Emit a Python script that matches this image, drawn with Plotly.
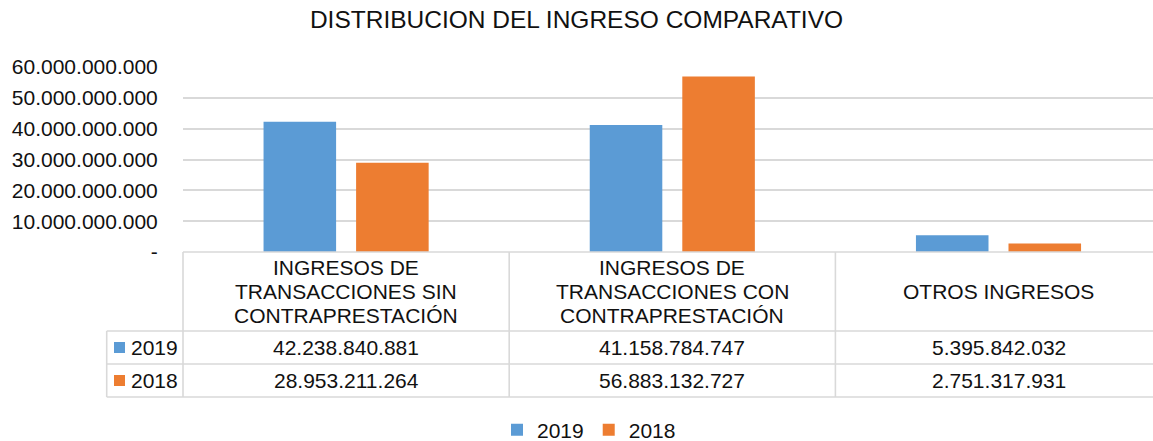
import plotly.graph_objects as go

# ---------------- data ----------------
categories = [
    "INGRESOS DE<br>TRANSACCIONES SIN<br>CONTRAPRESTACIÓN",
    "INGRESOS DE<br>TRANSACCIONES CON<br>CONTRAPRESTACIÓN",
    "OTROS INGRESOS",
]
series_names = ["2019", "2018"]
values_2019 = [42238840881, 41158784747, 5395842032]
values_2018 = [28953211264, 56883132727, 2751317931]
tick_values = [0, 10e9, 20e9, 30e9, 40e9, 50e9, 60e9]
tick_labels = ["-", "10.000.000.000", "20.000.000.000", "30.000.000.000",
               "40.000.000.000", "50.000.000.000", "60.000.000.000"]
title_text = "DISTRIBUCION DEL INGRESO COMPARATIVO"

# ---------------- style ----------------
BLUE = "#5B9BD5"
ORANGE = "#ED7D31"
GRID = "#D9D9D9"
TXT = "#111111"
FONT = "Liberation Sans, Arial, sans-serif"
W, H = 1153, 441
ML, MR, MT, MB = 183, 0, 67, 189
plot_w = W - ML - MR
plot_h = H - MT - MB
cat_w = 326.2  # pixel width of a category


def py(p):  # pixel y -> paper y
    return (H - MB - p) / plot_h


def px(p):  # pixel x -> paper x
    return (p - ML) / plot_w


fig = go.Figure()
colors = [BLUE, ORANGE]
series_vals = [values_2019, values_2018]
xidx = list(range(len(categories)))
for name, vals, col in zip(series_names, series_vals, colors):
    fig.add_trace(go.Bar(x=xidx, y=vals, name=name, marker=dict(color=col, line=dict(width=0)),
                         hoverinfo="y+name"))

shapes = []
line = dict(color=GRID, width=1.6)
# table horizontal lines
shapes.append(dict(type="line", xref="paper", yref="paper", x0=0, x1=1, y0=0, y1=0, line=line))
for p in [331, 364, 397]:
    shapes.append(dict(type="line", xref="paper", yref="paper", x0=px(106.7), x1=1,
                       y0=py(p), y1=py(p), line=line))
# verticals
shapes.append(dict(type="line", xref="paper", yref="paper", x0=0, x1=0, y0=0, y1=py(397), line=line))
shapes.append(dict(type="line", xref="paper", yref="paper", x0=px(106.7), x1=px(106.7),
                   y0=py(331), y1=py(397), line=line))
for i in range(len(categories) - 1):
    shapes.append(dict(type="line", xref="x", yref="paper", x0=i + 0.5, x1=i + 0.5,
                       y0=0, y1=py(397), line=line))
# legend keys inside the table
row_centers = [347.5, 380.5]
for col, rc in zip(colors, row_centers):
    shapes.append(dict(type="rect", xref="paper", yref="paper", x0=px(114), x1=px(125),
                       y0=py(rc - 5.5), y1=py(rc + 5.5), fillcolor=col, line=dict(width=0)))

annotations = []
fs = 21
# header rows
for i, cat in enumerate(categories):
    lines = cat.split("<br>")
    n = len(lines)
    for k, ln in enumerate(lines):
        cy = 291.5 + (k - (n - 1) / 2) * 24
        annotations.append(dict(xref="x", yref="paper", x=i, y=py(cy), text=ln, showarrow=False,
                                xanchor="center", yanchor="middle",
                                font=dict(size=fs, color=TXT, family=FONT)))
# value rows
for name, vals, rc in zip(series_names, series_vals, row_centers):
    annotations.append(dict(xref="paper", yref="paper", x=px(129), y=py(rc), text=name,
                            showarrow=False, xanchor="left", yanchor="middle",
                            font=dict(size=fs, color=TXT, family=FONT)))
    for i, v in enumerate(vals):
        annotations.append(dict(xref="x", yref="paper", x=i, y=py(rc),
                                text=f"{v:,}".replace(",", "."), showarrow=False,
                                xanchor="center", yanchor="middle",
                                font=dict(size=fs, color=TXT, family=FONT)))

fig.update_layout(
    width=W, height=H,
    margin=dict(l=ML, r=MR, t=MT, b=MB, pad=0, autoexpand=False),
    paper_bgcolor="white", plot_bgcolor="white",
    font=dict(family=FONT, size=fs, color=TXT),
    title=dict(text=title_text, x=0.5, xanchor="center", xref="container",
               y=1 - 19.7 / H, yref="container", yanchor="middle",
               font=dict(size=24.5, color=TXT, family=FONT)),
    barmode="group", bargap=0.4325, bargroupgap=0.216,
    xaxis=dict(range=[-0.5, -0.5 + plot_w / cat_w], showticklabels=False, showgrid=False,
               zeroline=False, showline=False, ticks="", fixedrange=True),
    yaxis=dict(range=[0, 60e9], tickvals=tick_values, ticktext=tick_labels,
               showgrid=True, gridcolor=GRID, gridwidth=1.6, zeroline=False, showline=False,
               ticks="outside", ticklen=20, tickcolor="rgba(0,0,0,0)",
               tickfont=dict(size=fs, color=TXT, family=FONT), fixedrange=True),
    legend=dict(orientation="h", x=px(497), xanchor="left", y=py(430), yanchor="middle",
                font=dict(size=fs, color=TXT, family=FONT), itemwidth=30,
                bgcolor="rgba(0,0,0,0)", traceorder="normal"),
    shapes=shapes, annotations=annotations,
    showlegend=True,
)
fig.write_html("out.html", config={"displayModeBar": False},
               post_script="document.body.style.margin='0px';document.body.style.overflow='hidden';")
